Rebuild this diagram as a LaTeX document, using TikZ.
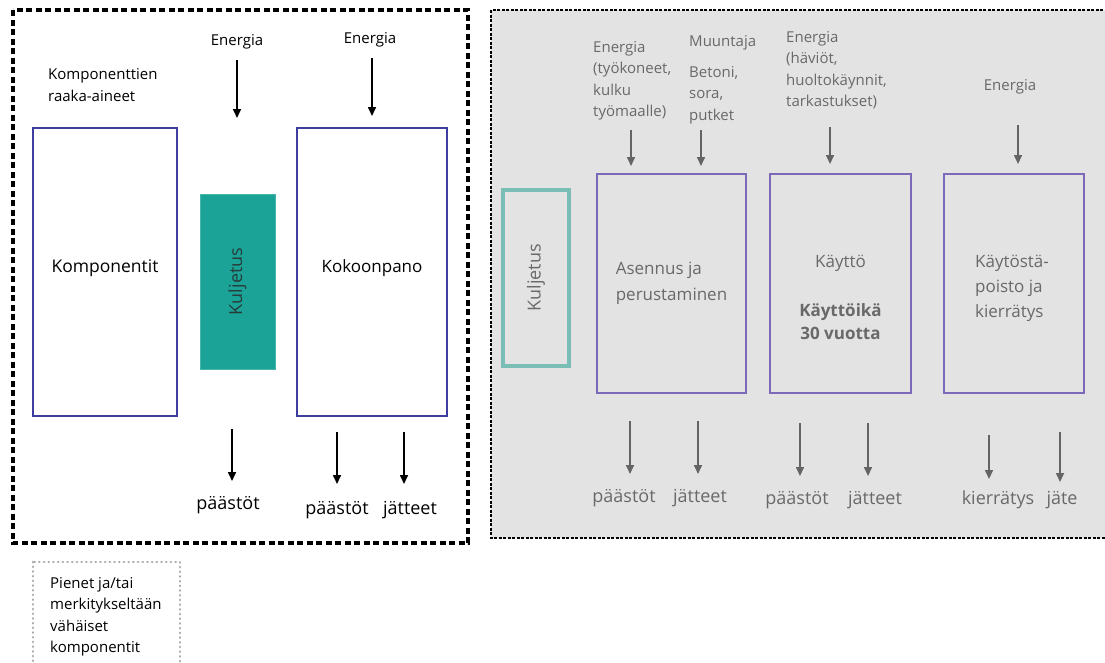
\documentclass[tikz,border=0pt]{standalone}
\usepackage{fontspec}
\setmainfont{Open Sans}
\usetikzlibrary{arrows.meta}
\definecolor{boxblue}{RGB}{62,62,158}
\definecolor{boxpurple}{RGB}{125,105,185}
\definecolor{tealfill}{RGB}{26,163,150}
\definecolor{tealline}{RGB}{122,190,182}
\definecolor{bggray}{RGB}{227,227,227}
\definecolor{txtgray}{RGB}{105,105,105}
\definecolor{arrgray}{RGB}{100,100,100}
\definecolor{dotgray}{RGB}{165,165,165}
\tikzset{
  bluebox/.style={draw=boxblue, line width=2pt, inner sep=0pt, font=\fontsize{17.5}{22}\selectfont},
  purplebox/.style={draw=boxpurple, line width=2pt, inner sep=0pt, text=txtgray, font=\fontsize{17}{25.5}\selectfont, align=left},
  lbl/.style={inner sep=0pt, font=\fontsize{15}{21.5}\selectfont, align=left},
  glbl/.style={lbl, text=txtgray},
  big/.style={inner sep=0pt, font=\fontsize{18}{22}\selectfont},
  gbig/.style={big, text=txtgray},
  arr/.style={line width=1.6pt, -{Triangle[length=9pt,width=8pt]}},
  garr/.style={arr, draw=arrgray},
}
\begin{document}
\begin{tikzpicture}[x=1pt,y=-1pt]
\useasboundingbox (0,0) rectangle (1105,662);
\fill[white] (0,0) rectangle (1105,662);
% frames
\draw[line width=3.5pt, dash pattern=on 6pt off 3.5pt] (13,10) rectangle (468,543);
\draw[fill=bggray, line width=2pt, dash pattern=on 3pt off 1.5pt] (491,10) rectangle (1115,538);
\draw[dotgray, line width=2.8pt, line cap=round, dash pattern=on 0.1pt off 4.6pt] (33,562) rectangle (180,672);
\node[lbl, anchor=north west] (pienet) at (50,577) {Pienet ja/tai\\merkitykseltään\\vähäiset\\komponentit};

% left part
\node[bluebox, minimum width=144pt, minimum height=288pt] (komp) at (105,272) {};
\node[bluebox, draw=none] (kompt) at (105,268) {Komponentit};
\node[fill=tealfill, draw=tealfill!80!white, minimum width=75pt, minimum height=175pt, inner sep=0pt] (kulj1) at (237.5,281.5) {};
\node[big, rotate=90, text={rgb,255:red,40;green,60;blue,60}] (kulj1t) at (kulj1.center) {Kuljetus};
\node[bluebox, minimum width=150pt, minimum height=288pt] (kok) at (372,272) {};
\node[bluebox, draw=none, font=\fontsize{17}{22}\selectfont] (kokt) at (372,268) {Kokoonpano};

\node[lbl, anchor=north west, font=\fontsize{15}{22.5}\selectfont] (raaka) at (48,68) {Komponenttien\\raaka-aineet};
\node[lbl] (en1) at (237,42) {Energia};
\node[lbl] (en2) at (370,40) {Energia};
\coordinate (en1a) at (237,60); \coordinate (en1b) at (237,118);
\coordinate (en2a) at (372,58); \coordinate (en2b) at (372,116);
\draw[arr] (en1a) -- (en1b);
\draw[arr] (en2a) -- (en2b);

\node[big] (p1) at (228,505) {päästöt};
\node[big] (p2) at (337,510) {päästöt};
\node[big] (j2) at (410,510) {jätteet};
\coordinate (p1a) at (232,429); \coordinate (p1b) at (232,481);
\coordinate (p2a) at (337,432); \coordinate (p2b) at (337,484);
\coordinate (j2a) at (404,432); \coordinate (j2b) at (404,484);
\draw[arr] (p1a) -- (p1b);
\draw[arr] (p2a) -- (p2b);
\draw[arr] (j2a) -- (j2b);

% right part
\node[draw=tealline, line width=3.5pt, minimum width=66pt, minimum height=176pt, inner sep=0pt] (kulj2) at (536,278) {};
\node[gbig, rotate=90] (kulj2t) at (kulj2.center) {Kuljetus};
\node[purplebox, minimum width=149pt, minimum height=219pt] (asen) at (671.5,283.5) {Asennus ja\\perustaminen};
\node[purplebox, minimum width=141pt, minimum height=219pt] (kaytto) at (840.5,283.5) {};
\node[gbig, align=center, font=\fontsize{17}{23}\selectfont] (kayttot) at (840.5,297) {Käyttö\\[26pt]\textbf{Käyttöikä}\\\textbf{30 vuotta}};
\node[purplebox, minimum width=140pt, minimum height=219pt] (poisto) at (1014,283.5) {};
\node[gbig, align=left, font=\fontsize{17}{25}\selectfont] (poistot) at (1012,288) {Käytöstä-\\poisto ja\\kierrätys};

\node[glbl, anchor=north west] (enA) at (593,41) {Energia\\(työkoneet,\\kulku\\työmaalle)};
\node[glbl, anchor=west] (muun) at (689,43) {Muuntaja};
\node[glbl, anchor=north west] (beto) at (689,66) {Betoni,\\sora,\\putket};
\node[glbl, anchor=north west] (enB) at (786,31) {Energia\\(häviöt,\\huoltokäynnit,\\tarkastukset)};
\node[glbl] (enC) at (1010,87) {Energia};
\coordinate (aA) at (631,130); \coordinate (aB) at (631,166);
\coordinate (bA) at (701,130); \coordinate (bB) at (701,166);
\coordinate (cA) at (830,127); \coordinate (cB) at (830,164);
\coordinate (dA) at (1018,125); \coordinate (dB) at (1018,164);
\draw[garr] (aA) -- (aB);
\draw[garr] (bA) -- (bB);
\draw[garr] (cA) -- (cB);
\draw[garr] (dA) -- (dB);

\node[gbig] (p3) at (624,498) {päästöt};
\node[gbig] (j3) at (700,498) {jätteet};
\node[gbig] (p4) at (797,500) {päästöt};
\node[gbig] (j4) at (875,500) {jätteet};
\node[gbig] (k5) at (998,500) {kierrätys};
\node[gbig] (j5) at (1062,500) {jäte};
\coordinate (p3a) at (630,421); \coordinate (p3b) at (630,474);
\coordinate (j3a) at (698,421); \coordinate (j3b) at (698,474);
\coordinate (p4a) at (800,423); \coordinate (p4b) at (800,476);
\coordinate (j4a) at (868,423); \coordinate (j4b) at (868,476);
\coordinate (k5a) at (989,435); \coordinate (k5b) at (989,479);
\coordinate (j5a) at (1060,432); \coordinate (j5b) at (1060,482);
\draw[garr] (p3a) -- (p3b);
\draw[garr] (j3a) -- (j3b);
\draw[garr] (p4a) -- (p4b);
\draw[garr] (j4a) -- (j4b);
\draw[garr] (k5a) -- (k5b);
\draw[garr] (j5a) -- (j5b);
\end{tikzpicture}
\end{document}
